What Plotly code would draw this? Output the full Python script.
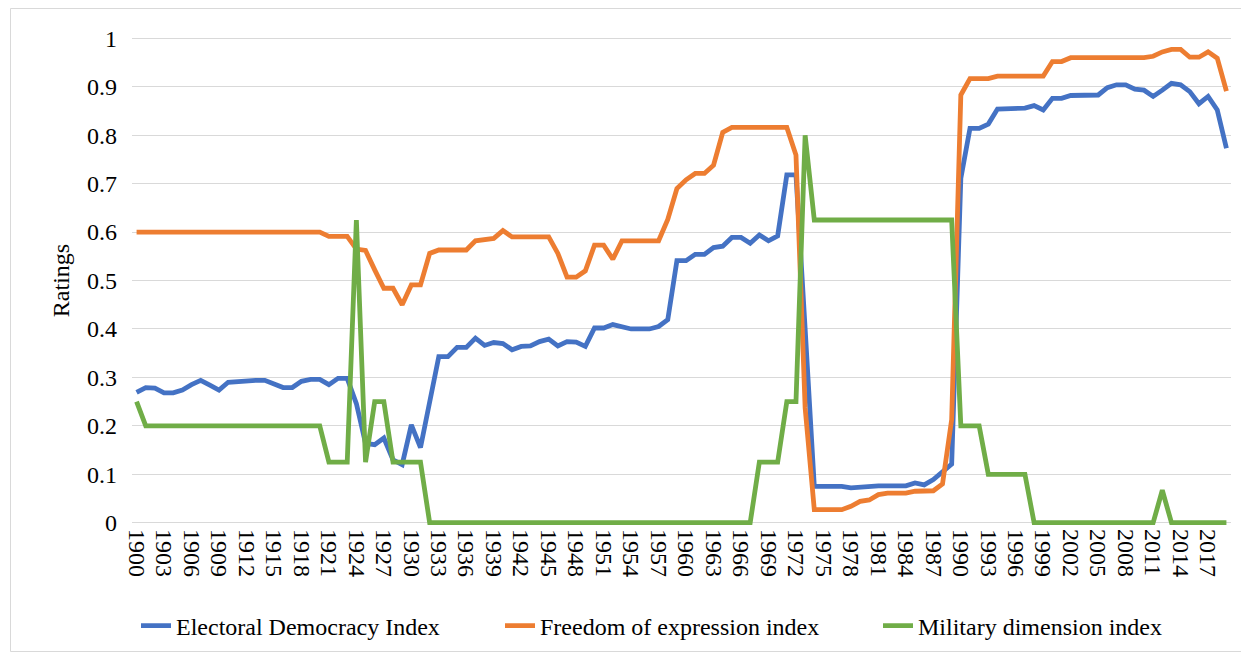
import plotly.graph_objects as go

years = list(range(1900, 2020))

electoral_democracy = [
    0.269, 0.279, 0.278, 0.268, 0.268, 0.274, 0.285, 0.294, 0.284, 0.274,
    0.290, 0.292, 0.294, 0.294, 0.294, 0.287, 0.279, 0.279, 0.292, 0.296,
    0.296, 0.285, 0.298, 0.298, 0.246, 0.164, 0.161, 0.175, 0.130, 0.120,
    0.202, 0.155, 0.250, 0.343, 0.343, 0.362, 0.362, 0.381, 0.366, 0.372,
    0.370, 0.357, 0.364, 0.365, 0.374, 0.379, 0.365, 0.374, 0.373, 0.364,
    0.402, 0.402, 0.409, 0.405, 0.400, 0.400, 0.400, 0.405, 0.419, 0.541,
    0.541, 0.554, 0.554, 0.568, 0.571, 0.589, 0.589, 0.577, 0.594, 0.582,
    0.592, 0.718, 0.718, 0.400, 0.075, 0.075, 0.075, 0.075, 0.072, 0.074,
    0.075, 0.076, 0.076, 0.076, 0.076, 0.082, 0.078, 0.089, 0.106, 0.121,
    0.711, 0.814, 0.814, 0.823, 0.854, 0.854, 0.854, 0.856, 0.861, 0.852,
    0.876, 0.876, 0.882, 0.882, 0.883, 0.883, 0.898, 0.904, 0.904, 0.895,
    0.893, 0.880, 0.893, 0.907, 0.904, 0.890, 0.865, 0.880, 0.852, 0.773,
]

freedom_of_expression = [
    0.600, 0.600, 0.600, 0.600, 0.600, 0.600, 0.600, 0.600, 0.600, 0.600,
    0.600, 0.600, 0.600, 0.600, 0.600, 0.600, 0.600, 0.600, 0.600, 0.600,
    0.600, 0.591, 0.591, 0.591, 0.565, 0.562, 0.522, 0.484, 0.484, 0.450,
    0.491, 0.491, 0.556, 0.563, 0.563, 0.563, 0.563, 0.582, 0.584, 0.587,
    0.603, 0.590, 0.590, 0.590, 0.590, 0.590, 0.556, 0.507, 0.507, 0.520,
    0.573, 0.573, 0.544, 0.582, 0.582, 0.582, 0.582, 0.582, 0.626, 0.690,
    0.708, 0.721, 0.721, 0.738, 0.806, 0.816, 0.816, 0.816, 0.816, 0.816,
    0.816, 0.816, 0.759, 0.237, 0.027, 0.027, 0.027, 0.027, 0.034, 0.044,
    0.047, 0.058, 0.061, 0.061, 0.061, 0.065, 0.066, 0.066, 0.080, 0.213,
    0.883, 0.917, 0.917, 0.917, 0.922, 0.922, 0.922, 0.922, 0.922, 0.922,
    0.952, 0.952, 0.960, 0.960, 0.960, 0.960, 0.959, 0.959, 0.959, 0.959,
    0.960, 0.963, 0.972, 0.977, 0.977, 0.961, 0.961, 0.972, 0.959, 0.891,
]

military_dimension = [
    0.25, 0.2, 0.2, 0.2, 0.2, 0.2, 0.2, 0.2, 0.2, 0.2,
    0.2, 0.2, 0.2, 0.2, 0.2, 0.2, 0.2, 0.2, 0.2, 0.2,
    0.2, 0.125, 0.125, 0.125, 0.625, 0.125, 0.25, 0.25, 0.125, 0.125,
    0.125, 0.125, 0, 0, 0, 0, 0, 0, 0, 0,
    0, 0, 0, 0, 0, 0, 0, 0, 0, 0,
    0, 0, 0, 0, 0, 0, 0, 0, 0, 0,
    0, 0, 0, 0, 0, 0, 0, 0, 0.125, 0.125,
    0.125, 0.25, 0.25, 0.80, 0.625, 0.625, 0.625, 0.625, 0.625, 0.625,
    0.625, 0.625, 0.625, 0.625, 0.625, 0.625, 0.625, 0.625, 0.625, 0.625,
    0.2, 0.2, 0.2, 0.1, 0.1, 0.1, 0.1, 0.1, 0, 0,
    0, 0, 0, 0, 0, 0, 0, 0, 0, 0,
    0, 0, 0.067, 0, 0, 0, 0, 0, 0, 0,
]

tick_years = [1900, 1903, 1906, 1909, 1912, 1915, 1918, 1921, 1924, 1927,
              1930, 1933, 1936, 1939, 1942, 1945, 1948, 1951, 1954, 1957,
              1960, 1963, 1966, 1969, 1972, 1975, 1978, 1981, 1984, 1987,
              1990, 1993, 1996, 1999, 2002, 2005, 2008, 2011, 2014, 2017]
y_ticks = [0, 0.1, 0.2, 0.3, 0.4, 0.5, 0.6, 0.7, 0.8, 0.9, 1]
y_tick_text = ["0", "0.1", "0.2", "0.3", "0.4", "0.5", "0.6", "0.7", "0.8", "0.9", "1"]

series = [
    ("Electoral Democracy Index", electoral_democracy, "#4472C4", "legend"),
    ("Freedom of expression index", freedom_of_expression, "#ED7D31", "legend2"),
    ("Military dimension index", military_dimension, "#70AD47", "legend3"),
]

FONT = "Liberation Serif"

fig = go.Figure()
for name, vals, color, lg in series:
    fig.add_trace(go.Scatter(
        x=years, y=vals, name=name, mode="lines",
        line=dict(color=color, width=4.8),
        legend=lg, showlegend=True,
    ))

# the page body adds an 8px offset; layout is expressed in screen pixels
OFF = 8
W, H = 1249, 655
pw, ph = 1099, 495
L, T = 132 - OFF, 33 - OFF
R, B = W - L - pw, H - T - ph

def px(x):
    return (x - OFF - L) / pw

def py(y):
    return (T + ph - (y - OFF)) / ph

leg_common = dict(orientation="h", yanchor="middle", xanchor="left",
                  font=dict(family=FONT, size=24, color="#000000"),
                  bgcolor="rgba(0,0,0,0)", borderwidth=0)

fig.update_layout(
    width=W, height=H, autosize=False, showlegend=True,
    margin=dict(l=L, r=R, t=T, b=B, autoexpand=False),
    paper_bgcolor="white", plot_bgcolor="white",
    font=dict(family=FONT, size=24, color="#000000"),
    legend=dict(x=px(136), y=py(626), **leg_common),
    legend2=dict(x=px(500), y=py(626), **leg_common),
    legend3=dict(x=px(878), y=py(626), **leg_common),
    xaxis=dict(
        range=[1899.5, 2019.5], tickmode="array", tickvals=tick_years,
        ticktext=[str(y) for y in tick_years], tickangle=90,
        showgrid=False, zeroline=False, showline=False, ticks="",
        tickfont=dict(family=FONT, size=24, color="#000000"),
        ticklabelstandoff=0,
    ),
    yaxis=dict(
        range=[-0.0109, 1.011], tickmode="array", tickvals=y_ticks, ticktext=y_tick_text,
        showgrid=True, gridcolor="#D9D9D9", gridwidth=1.3, zeroline=False,
        showline=False, ticks="", ticklabelstandoff=14,
        tickfont=dict(family=FONT, size=24, color="#000000"),
        title=dict(text="Ratings", font=dict(family=FONT, size=24, color="#000000"), standoff=10),
    ),
    shapes=[dict(type="rect", xref="paper", yref="paper",
                 x0=px(10.5), x1=px(1247.5), y0=py(651.5), y1=py(8.5),
                 line=dict(color="#D9D9D9", width=1), fillcolor="rgba(0,0,0,0)", layer="below")],
)

fig.write_html("out.html")
